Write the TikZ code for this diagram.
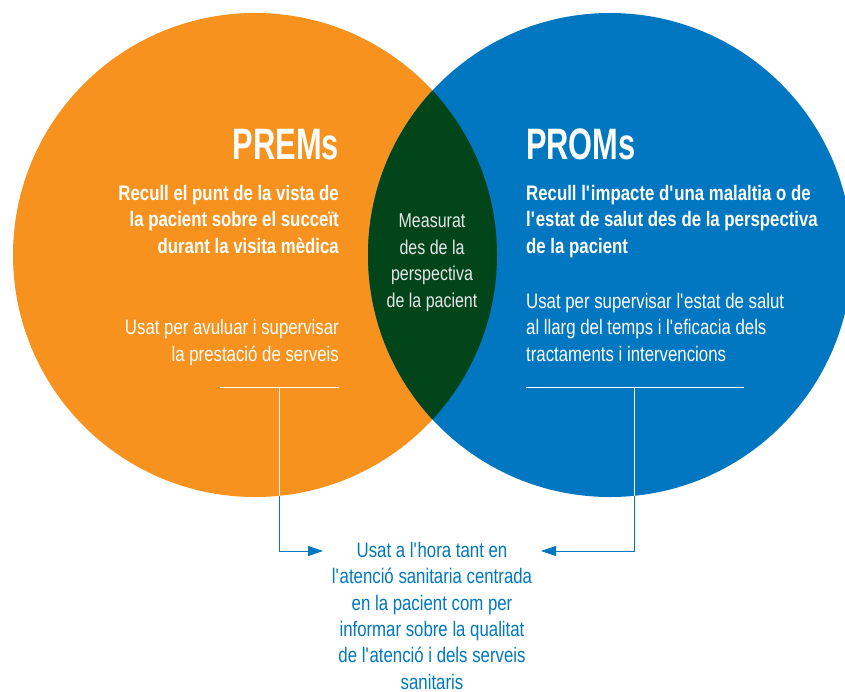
\documentclass[tikz,border=0pt]{standalone}
\usepackage{fontspec}
\usetikzlibrary{arrows.meta}
\newfontfamily\bodyfont{Liberation Sans}[FakeStretch=0.8]
\newfontfamily\headfont{Liberation Sans}[FakeStretch=0.7]
\definecolor{premsorange}{HTML}{F7921E}
\definecolor{promsblue}{HTML}{0077C0}
\definecolor{lensgreen}{HTML}{02451B}
\definecolor{lenstxt}{HTML}{E8E8E8}
\newcommand{\qs}{\textquotesingle}

\begin{document}
\begin{tikzpicture}[x=1pt,y=-1pt,
        heading/.style={text=white,inner sep=0pt,font=\headfont\fontsize{44}{44}\selectfont\bfseries},
        bodytext/.style={text=white,inner sep=0pt,font=\bodyfont\fontsize{21}{26.3}\selectfont},
        boldtext/.style={bodytext,font=\bodyfont\fontsize{21}{26.3}\selectfont\bfseries},
        rule/.style={white,line width=0.9pt},
        link/.style={promsblue,line width=0.9pt,-{Triangle[length=15pt,width=10pt]}}]
        \useasboundingbox (0,0) rectangle (845,691);
        \clip (0,0) rectangle (845,691);

        % circles
        \coordinate (premsc) at (255,255);
        \coordinate (promsc) at (610,255);
        \fill[premsorange] (premsc) circle (242);
        \fill[promsblue] (promsc) circle (242);
        \begin{scope}
            \clip (premsc) circle (242);
            \fill[lensgreen] (promsc) circle (242);
        \end{scope}

        % PREMs (multi-line nodes sit on their last line)
        \node[heading,anchor=base east] (premstitle) at (339,159) {PREMs};
        \node[boldtext,align=right,anchor=base east] (premswhat) at (339,253)
            {Recull el punt de la vista de\\la pacient sobre el succeït\\durant la visita mèdica};
        \node[bodytext,align=right,anchor=base east] (premsuse) at (339,361)
            {Usat per avuluar i supervisar\\la prestació de serveis};

        % PROMs
        \node[heading,anchor=base west] (promstitle) at (526,159) {PROMs};
        \node[boldtext,align=left,anchor=base west] (promswhat) at (526,253)
            {Recull l\qs impacte d\qs una malaltia o de\\l\qs estat de salut des de la perspectiva\\de la pacient};
        \node[bodytext,align=left,anchor=base west] (promsuse) at (526,361)
            {Usat per supervisar l\qs estat de salut\\al llarg del temps i l\qs eficacia dels\\tractaments i intervencions};

        % lens
        \node[bodytext,text=lenstxt,font=\bodyfont\fontsize{20}{26.5}\selectfont,align=center,anchor=base] (lens) at (432,307)
            {Measurat\\des de la\\perspectiva\\de la pacient};

        % common use
        \node[bodytext,text=promsblue,align=center,anchor=base] (usage) at (432,689)
            {Usat a l\qs hora tant en\\l\qs atenció sanitaria centrada\\en la pacient com per\\informar sobre la qualitat\\de l\qs atenció i dels serveis\\sanitaris};

        % rules and links
        \coordinate (lruleA) at (220,387);
        \coordinate (lruleB) at (339,387);
        \coordinate (lruleM) at (279,387);
        \coordinate (rruleA) at (526,387);
        \coordinate (rruleB) at (744,387);
        \coordinate (rruleM) at (634,387);
        \coordinate (ltip) at (323,551);
        \coordinate (rtip) at (541,551);
        \draw[rule] (lruleA) -- (lruleB);
        \draw[rule] (rruleA) -- (rruleB);
        \draw[link] (lruleM) |- (ltip);
        \draw[link] (rruleM) |- (rtip);
        \begin{scope}
            \clip (premsc) circle (242);
            \draw[rule] (lruleM) -- ++(0,140);
        \end{scope}
        \begin{scope}
            \clip (promsc) circle (242);
            \draw[rule] (rruleM) -- ++(0,140);
        \end{scope}
    \end{tikzpicture}
\end{document}
